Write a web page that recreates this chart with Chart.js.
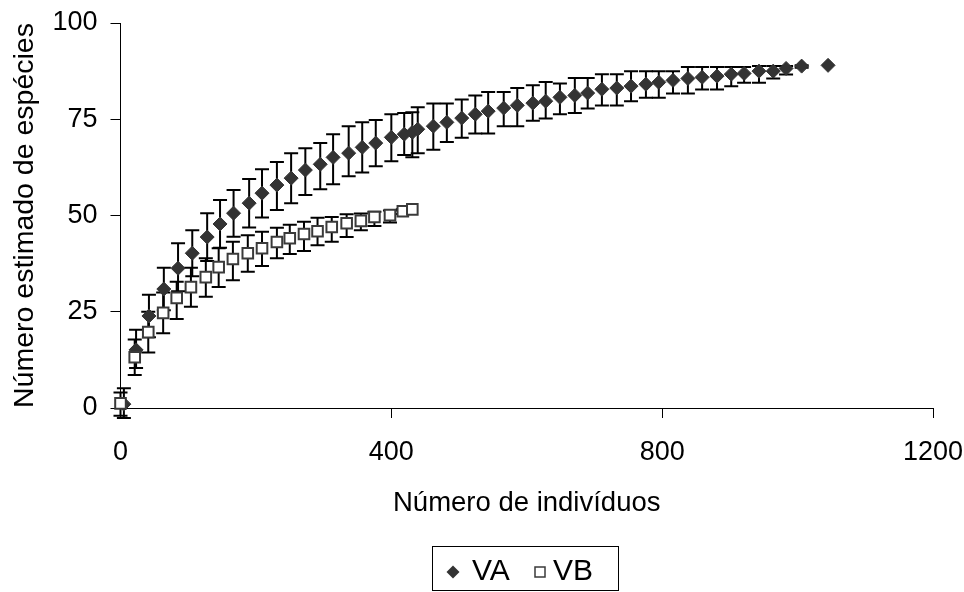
<!DOCTYPE html>
<html>
<head>
<meta charset="utf-8">
<script src="https://cdn.jsdelivr.net/npm/chart.js@4.4.0/dist/chart.umd.min.js"></script>
<style>
  html, body { margin: 0; padding: 0; background: #fff; }
  canvas { display: block; }
</style>
</head>
<body>
<canvas id="curvaChart" width="964" height="592"></canvas>
<script>
// VA: número de indivíduos, espécies estimadas e limites do intervalo
const vaX = [5, 23, 42, 64, 85, 106, 128, 147, 167, 190, 209, 231, 252, 273, 295, 314, 337, 357, 377, 400,
    419, 431, 439, 462, 482, 504, 524, 543, 566, 586, 609, 628, 649, 671, 690, 711, 733, 754, 776, 795,
    816, 838, 859, 881, 902, 921, 943, 964, 983, 1006, 1045];
const vaY = [1.0, 15.1, 23.9, 30.9, 36.3, 40.2, 44.4, 47.8, 50.6, 53.2, 55.8, 57.9, 59.7, 61.8, 63.3, 65.1, 66.2, 67.7, 68.8, 70.3,
    71.1, 71.6, 72.4, 73.2, 74.2, 75.3, 76.3, 77.1, 77.9, 78.6, 79.2, 79.7, 80.7, 81.2, 81.8, 82.8, 83.1, 83.6, 84.1, 84.6,
    85.1, 85.6, 85.9, 86.2, 86.7, 86.9, 87.5, 87.5, 88.2, 88.8, 89.0];
const vaLow = [-2.6, 10.4, 18.4, 25.4, 30.3, 34.2, 38.2, 41.6, 44.5, 46.9, 49.5, 51.4, 53.2, 55.3, 56.8, 58.1, 60.2, 61.2, 62.8, 64.1,
    65.7, 65.1, 66.2, 67.1, 69.1, 70.2, 71.3, 71.3, 73.2, 73.2, 74.6, 75.2, 76.3, 76.6, 77.8, 78.6, 78.6, 79.7, 80.6, 80.6,
    81.7, 81.7, 82.7, 82.7, 83.6, 84.5, 84.5, 85.6, 86.6, 88.4, 89.0];
const vaHigh = [5.1, 20.3, 29.4, 36.4, 42.8, 46.2, 50.6, 54.0, 56.6, 59.5, 62.0, 63.9, 66.2, 67.5, 68.8, 71.1, 73.2, 74.2, 74.8, 76.3,
    76.6, 76.8, 78.1, 79.1, 79.1, 80.1, 81.2, 82.1, 82.1, 83.1, 83.8, 84.7, 84.3, 85.7, 85.7, 86.7, 86.7, 87.5, 87.5, 87.5,
    87.5, 88.6, 88.6, 88.6, 88.6, 88.6, 88.8, 88.8, 88.8, 89.0, 89.0];

// VB
const vbX = [0, 21, 41, 63, 83, 104, 126, 145, 166, 188, 209, 231, 250, 271, 291, 312, 334, 355, 375, 398, 417, 431];
const vbY = [1.2, 13.2, 19.7, 24.7, 28.6, 31.4, 34.0, 36.6, 38.7, 40.2, 41.5, 43.1, 44.1, 45.2, 45.9, 47.0, 48.0, 48.6, 49.6, 50.1, 51.1, 51.6];
const vbLow = [-2.0, 8.6, 14.4, 19.4, 23.1, 26.3, 28.9, 31.4, 33.2, 35.4, 36.9, 38.9, 40.0, 40.8, 42.3, 43.2, 44.4, 46.2, 47.3, 48.2, 50.4, 51.6];
const vbHigh = [4.0, 17.8, 25.0, 30.0, 32.8, 36.4, 38.9, 41.5, 43.2, 44.9, 45.8, 46.8, 47.6, 48.4, 49.4, 49.6, 50.3, 50.5, 51.0, 51.3, 51.6, 51.6];

const xTicks = [0, 400, 800, 1200];
const yTicks = [0, 25, 50, 75, 100];

const barras = [
    { x: vaX, lo: vaLow, hi: vaHigh },
    { x: vbX, lo: vbLow, hi: vbHigh }
];

Chart.defaults.font.family = "'Liberation Sans', Arial, sans-serif";
Chart.defaults.font.size = 27;
Chart.defaults.color = '#000';

// barras de erro desenhadas antes dos pontos
const errorBars = {
    id: 'errorBars',
    beforeDatasetsDraw(chart) {
        const { ctx, scales: { x, y } } = chart;
        ctx.save();
        ctx.strokeStyle = '#000';
        ctx.lineWidth = 2;
        barras.forEach(s => {
            for (let i = 0; i < s.x.length; i++) {
                if (s.hi[i] === s.lo[i]) continue;
                const px = x.getPixelForValue(s.x[i]);
                const top = y.getPixelForValue(s.hi[i]);
                const bot = y.getPixelForValue(s.lo[i]);
                ctx.beginPath();
                ctx.moveTo(px, top); ctx.lineTo(px, bot);
                ctx.moveTo(px - 7, top); ctx.lineTo(px + 7, top);
                ctx.moveTo(px - 7, bot); ctx.lineTo(px + 7, bot);
                ctx.stroke();
            }
        });
        ctx.restore();
    }
};

// legenda com moldura, abaixo do gráfico
const boxLegend = {
    id: 'boxLegend',
    afterDraw(chart) {
        const ctx = chart.ctx;
        const [dsA, dsB] = chart.data.datasets;
        const cy = 572;
        ctx.save();
        ctx.strokeStyle = '#000';
        ctx.lineWidth = 1;
        ctx.strokeRect(432.5, 546.5, 186, 44);

        // losango VA
        ctx.fillStyle = dsA.backgroundColor;
        ctx.beginPath();
        ctx.moveTo(453 - 6.5, cy);
        ctx.lineTo(453, cy - 6.5);
        ctx.lineTo(453 + 6.5, cy);
        ctx.lineTo(453, cy + 6.5);
        ctx.closePath();
        ctx.fill();

        // quadrado VB
        ctx.fillStyle = dsB.backgroundColor;
        ctx.strokeStyle = dsB.borderColor;
        ctx.lineWidth = 1.5;
        ctx.fillRect(535, cy - 5, 10, 10);
        ctx.strokeRect(535, cy - 5, 10, 10);

        ctx.font = "30px 'Liberation Sans', Arial, sans-serif";
        ctx.textBaseline = 'middle';
        ctx.fillStyle = '#000';
        ctx.fillText(dsA.label, 472, cy);
        ctx.fillText(dsB.label, 553, cy);
        ctx.restore();
    }
};

new Chart(document.getElementById('curvaChart'), {
    type: 'scatter',
    data: {
        datasets: [
            {
                label: 'VA',
                data: vaX.map((v, i) => ({ x: v, y: vaY[i] })),
                pointStyle: 'rectRot',
                pointRadius: 7,
                backgroundColor: '#333333',
                borderColor: '#333333',
                borderWidth: 1,
                order: 2,
                clip: false
            },
            {
                label: 'VB',
                data: vbX.map((v, i) => ({ x: v, y: vbY[i] })),
                pointStyle: 'rect',
                pointRadius: 7.5,
                backgroundColor: '#ffffff',
                borderColor: '#3a3a3a',
                borderWidth: 2,
                order: 1,
                clip: false
            }
        ]
    },
    options: {
        responsive: false,
        animation: false,
        layout: { padding: { top: 23, right: 31, bottom: 0, left: 0 } },
        plugins: {
            legend: { display: false },
            tooltip: { enabled: false }
        },
        scales: {
            x: {
                type: 'linear',
                min: 0,
                max: 1200,
                afterFit: s => { s.height = 184; s.paddingLeft = 0; s.paddingRight = 0; },
                afterBuildTicks: s => { s.ticks = xTicks.map(v => ({ value: v })); },
                ticks: { padding: 18, callback: v => String(v) },
                grid: { drawOnChartArea: false, tickLength: 10, tickColor: '#000', tickWidth: 1 },
                border: { color: '#000', width: 1 },
                title: { display: true, text: 'Número de indivíduos', font: { size: 27.5 }, padding: { top: 72, bottom: 72 } }
            },
            y: {
                min: 0,
                max: 100,
                afterFit: s => { s.width = 120.5; s.paddingTop = 0; s.paddingBottom = 0; },
                afterBuildTicks: s => { s.ticks = yTicks.map(v => ({ value: v })); },
                ticks: { padding: 13, callback: v => String(v) },
                grid: { drawOnChartArea: false, tickLength: 10, tickColor: '#000', tickWidth: 1 },
                border: { color: '#000', width: 1 },
                title: { display: true, text: 'Número estimado de espécies', font: { size: 28.5 }, padding: { top: 8, bottom: 0 } }
            }
        }
    },
    plugins: [errorBars, boxLegend]
});
</script>
</body>
</html>
